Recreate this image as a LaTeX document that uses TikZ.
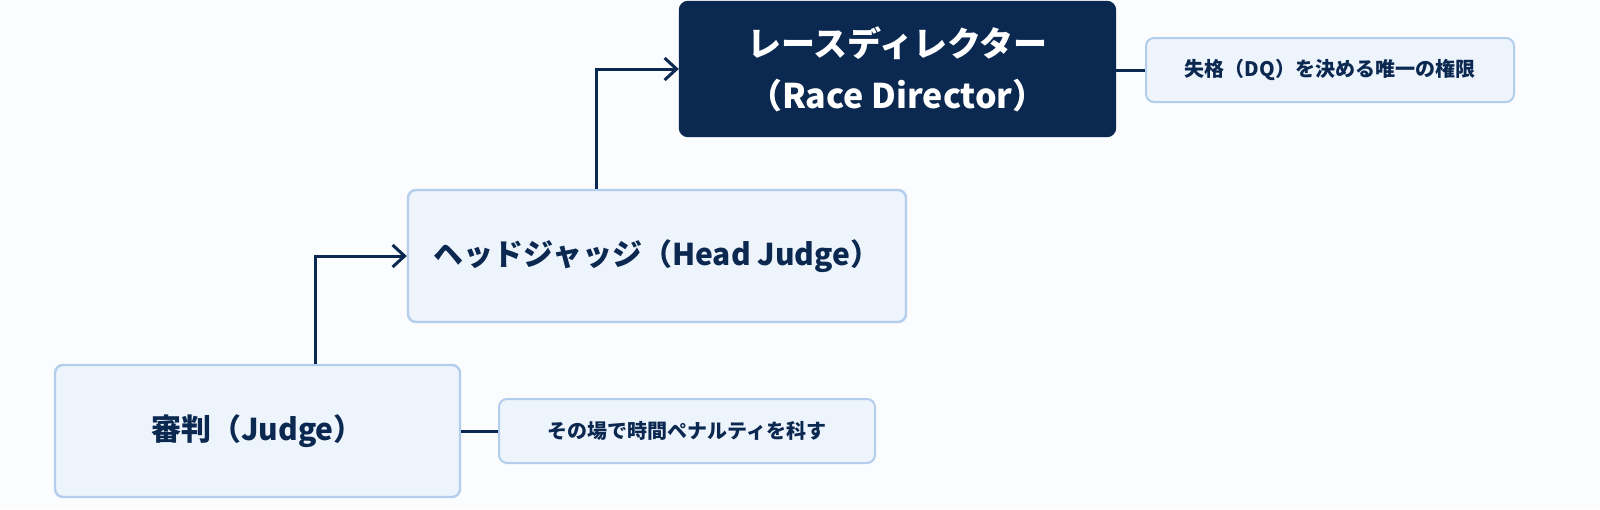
\documentclass[tikz,border=0pt]{standalone}
\usepackage{fontspec}
\setmainfont{Noto Sans CJK JP}
\usetikzlibrary{arrows.meta}
\definecolor{bg}{HTML}{FBFCFD}
\definecolor{boxfill}{HTML}{EEF4FC}
\definecolor{boxline}{HTML}{B3CDEC}
\definecolor{navy}{HTML}{0B2850}
\begin{document}
\begin{tikzpicture}[x=0.5pt,y=-0.5pt,
  box/.style={draw=boxline,line width=1.2pt,fill=boxfill,rounded corners=4pt,inner sep=0pt,text=navy,font=\bfseries\fontsize{15}{18}\selectfont},
  note/.style={box,line width=1pt,font=\bfseries\fontsize{10}{12}\selectfont},
  conn/.style={draw=navy,line width=1.5pt},
  arr/.style={conn,-{Straight Barb[length=6pt,width=11pt,line width=1.5pt]}}]
\useasboundingbox (0,0) rectangle (1600,509);
\fill[bg] (0,0) rectangle (1600,509);
\node[box,minimum width=202.5pt,minimum height=66pt] (judge) at (257.5,431) {審判（Judge）};
\node[box,minimum width=249pt,minimum height=66pt] (head) at (657,256) {ヘッドジャッジ（Head Judge）};
\node[box,draw=navy,fill=navy,text=white,minimum width=217.5pt,minimum height=67pt,align=center,font=\bfseries\fontsize{17}{26}\selectfont] (rd) at (897.5,69) {レースディレクター\\（Race Director）};
\node[note,minimum width=184pt,minimum height=32pt] (n1) at (1330,70) {失格（DQ）を決める唯一の権限};
\node[note,minimum width=188pt,minimum height=32pt] (n2) at (687,431) {その場で時間ペナルティを科す};
\draw[arr] (judge.north -| 315,0) |- (head.west);
\draw[arr] (head.north -| 596,0) |- (rd.west);
\draw[conn] (judge.east |- n2.west) -- (n2.west);
\draw[conn] (rd.east |- n1.west) -- (n1.west);
\end{tikzpicture}
\end{document}
